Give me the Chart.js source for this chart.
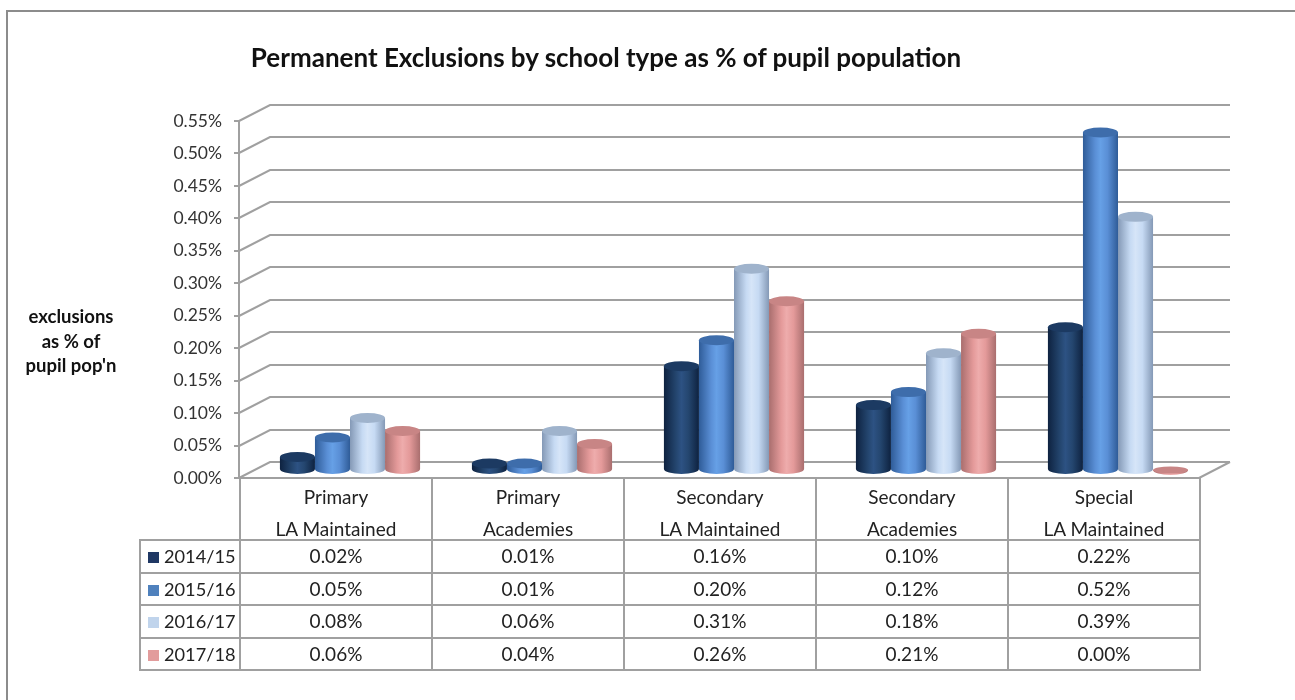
<!DOCTYPE html>
<html>
<head>
<meta charset="utf-8">
<script src="https://cdn.jsdelivr.net/npm/chart.js@4"></script>
<style>
  body { margin: 0; background: #fff; font-family: Lato, "Open Sans", sans-serif; color: #222; }
  #wrap { position: relative; width: 1295px; height: 700px; overflow: hidden; }
  #frame { position: absolute; left: 6px; top: 10px; width: 1300px; height: 700px;
           border-left: 2px solid #8c8c8c; border-top: 2px solid #8c8c8c; }
  #chart { position: absolute; left: 0; top: 0; }
  #title { position: absolute; left: 0; width: 1212px; top: 41px; line-height: 32px; text-align: center;
           font-weight: bold; font-size: 26px; color: #111; }
  #ytitle { position: absolute; left: 10px; width: 122px; top: 304px; text-align: center;
            font-weight: bold; font-size: 18.5px; line-height: 24.5px; color: #111; }
  #dtable { position: absolute; left: 139px; top: 477px; border-collapse: collapse;
            table-layout: fixed; font-size: 19px; }
  #dtable td { border: 2px solid #a0a0a0; text-align: center; padding: 0; height: 30px; line-height: 30px; }
  #dtable tr.head td { height: auto; vertical-align: top; }
  #dtable tr.head td div { height: 58px; padding-top: 2px; line-height: 32px; overflow: visible; }
  #dtable tr:not(.head) td { height: 30.5px; }
  #dtable td.blank { border-top: none; border-left: none; }
  #dtable td.key { text-align: left; padding-left: 7px; white-space: nowrap; font-size: 18.2px; }
  .sw { display: inline-block; width: 11px; height: 11px; margin-right: 5px; vertical-align: 0px; }
</style>
</head>
<body>
<div id="wrap">
  <div id="frame"></div>
  <canvas id="chart" width="1295" height="700"></canvas>
  <div id="title">Permanent Exclusions by school type as % of pupil population</div>
  <div id="ytitle">exclusions<br>as % of<br>pupil pop'n</div>
  <table id="dtable"></table>
</div>
<script>
const categories = [
  ["Primary", "LA Maintained"],
  ["Primary", "Academies"],
  ["Secondary", "LA Maintained"],
  ["Secondary", "Academies"],
  ["Special", "LA Maintained"]
];
const seriesNames = ["2014/15", "2015/16", "2016/17", "2017/18"];
const values1415 = [0.02, 0.01, 0.16, 0.10, 0.22];
const values1516 = [0.05, 0.01, 0.20, 0.12, 0.52];
const values1617 = [0.08, 0.06, 0.31, 0.18, 0.39];
const values1718 = [0.06, 0.04, 0.26, 0.21, 0.00];
const yMax = 0.55;
const yStep = 0.05;

// legend swatch + cylinder shading for each series
const swatch = ["#1f3864", "#4f81bd", "#c0d4ec", "#e29c9c"];
const shades = [
  { edge: "#0e2240", mid: "#24466f", hi: "#2d5283", top: "#1c3a62" },
  { edge: "#2f5c98", mid: "#5a8fd6", hi: "#66a0e6", top: "#3e6dab" },
  { edge: "#8499b6", mid: "#c6daf3", hi: "#d6e5f8", top: "#9fb3cc" },
  { edge: "#a96e6e", mid: "#e49a9a", hi: "#eeacac", top: "#c88585" }
];
const allValues = [values1415, values1516, values1617, values1718];

const DX = 15, DY = -8;      // bars sit half way into the 3d box
const BX = 31, BY = -16;     // back wall offset
const gridColor = "#a0a0a0";

const backWall = {
  id: "backWall",
  beforeDatasetsDraw(chart) {
    const { ctx, chartArea: a, scales: { y } } = chart;
    ctx.save();
    ctx.strokeStyle = gridColor;
    ctx.lineWidth = 2;
    for (let v = 0; v <= yMax + 1e-9; v += yStep) {
      const py = Math.round(y.getPixelForValue(v));
      ctx.beginPath();
      ctx.moveTo(a.left, py);
      ctx.lineTo(a.left + BX, py + BY);
      ctx.lineTo(a.right + BX, py + BY);
      ctx.stroke();
    }
    ctx.beginPath();
    ctx.moveTo(a.right, a.bottom);
    ctx.lineTo(a.right + BX, a.bottom + BY);
    ctx.stroke();
    ctx.restore();
  }
};

function cylinder(ctx, el, s) {
  const w = el.width, x0 = el.x - w / 2, x1 = el.x + w / 2;
  const top = el.y, base = el.base, ry = 5;
  const g = ctx.createLinearGradient(x0, 0, x1, 0);
  g.addColorStop(0, s.edge);
  g.addColorStop(0.35, s.mid);
  g.addColorStop(0.5, s.hi);
  g.addColorStop(0.7, s.mid);
  g.addColorStop(1, s.edge);
  ctx.fillStyle = g;
  ctx.beginPath();
  ctx.ellipse(el.x, base, w / 2, ry, 0, 0, Math.PI);
  ctx.lineTo(x0, top);
  ctx.lineTo(x1, top);
  ctx.closePath();
  ctx.fill();
  ctx.fillStyle = s.top;
  ctx.beginPath();
  ctx.ellipse(el.x, top, w / 2, base - top < 1 ? 3.5 : ry, 0, 0, Math.PI * 2);
  ctx.fill();
}

const cylinders = {
  id: "cylinders",
  afterDatasetsDraw(chart) {
    const ctx = chart.ctx;
    ctx.save();
    ctx.translate(DX, DY);
    chart.data.datasets.forEach((ds, i) => {
      chart.getDatasetMeta(i).data.forEach(el => cylinder(ctx, el, shades[i]));
    });
    ctx.restore();
  }
};

new Chart(document.getElementById("chart"), {
  type: "bar",
  data: {
    labels: categories.map(c => c.join(" ")),
    datasets: seriesNames.map((name, i) => ({
      label: name,
      data: allValues[i],
      backgroundColor: "rgba(0,0,0,0)",
      categoryPercentage: 0.73,
      barPercentage: 1.0
    }))
  },
  options: {
    responsive: false,
    devicePixelRatio: 1,
    animation: false,
    layout: { padding: { left: 140, right: 96, top: 121, bottom: 222 } },
    plugins: { legend: { display: false }, tooltip: { enabled: false } },
    scales: {
      x: { display: false },
      y: {
        min: 0,
        max: yMax,
        afterFit: s => { s.width = 99; },
        ticks: {
          stepSize: yStep,
          padding: 12,
          color: "#333",
          font: { family: "Lato", size: 17.5 },
          callback: v => v.toFixed(2) + "%"
        },
        grid: { drawOnChartArea: false, drawTicks: true, tickLength: 5, color: gridColor, lineWidth: 2 },
        border: { color: gridColor, width: 2 }
      }
    }
  },
  plugins: [backWall, cylinders]
});

// data table under the plot
const tbl = document.getElementById("dtable");
let html = '<colgroup><col style="width:100px">' + categories.map(() => '<col style="width:192px">').join("") + '</colgroup>';
html += '<tr class="head"><td class="blank"></td>' + categories.map(c => '<td><div>' + c[0] + '<br>' + c[1] + '</div></td>').join("") + '</tr>';
seriesNames.forEach((name, i) => {
  html += '<tr><td class="key"><span class="sw" style="background:' + swatch[i] + '"></span>' + name + '</td>' +
    allValues[i].map(v => '<td>' + v.toFixed(2) + '%</td>').join("") + '</tr>';
});
tbl.innerHTML = html;
</script>
</body>
</html>
